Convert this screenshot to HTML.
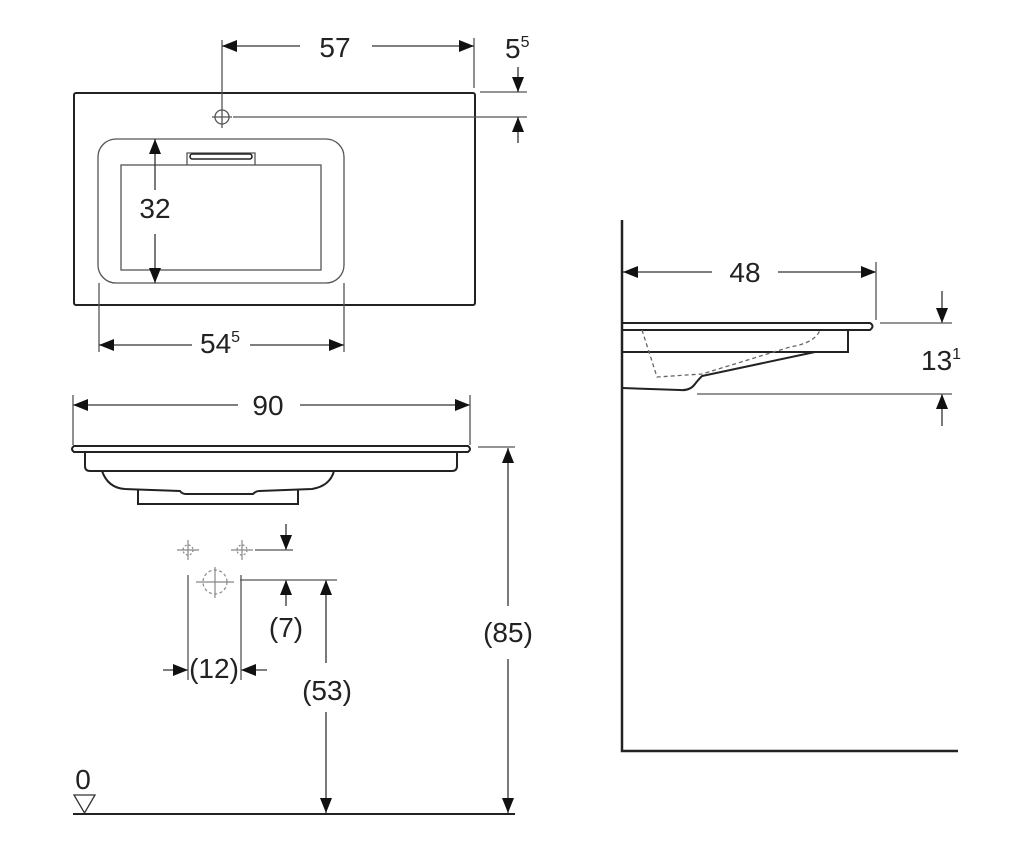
<!DOCTYPE html>
<html><head><meta charset="utf-8"><style>
html,body{margin:0;padding:0;background:#fff;width:1024px;height:850px;overflow:hidden}
svg text{font-family:"Liberation Sans",sans-serif;fill:#222}
</style></head><body>
<svg width="1024" height="850" viewBox="0 0 1024 850" xmlns="http://www.w3.org/2000/svg">
<defs>
<marker id="a" viewBox="0 0 15 12" refX="15" refY="6" markerWidth="15" markerHeight="12" markerUnits="userSpaceOnUse" orient="auto"><path d="M0,0 L15,6 L0,12 Z" fill="#111"/></marker>
</defs>
<g fill="none" stroke="#222" stroke-width="2">
<rect x="74" y="93" width="401" height="212" rx="2"/>
</g>
<g fill="none" stroke="#555" stroke-width="1.3">
<rect x="98" y="139" width="246" height="144" rx="18"/>
<rect x="121" y="165" width="200" height="105"/>
<path d="M187,165 V153 H255 V165"/>
<rect x="190" y="154" width="62" height="5" rx="2.5" stroke="#222" stroke-width="1.6"/>
<circle cx="222" cy="117" r="7"/>
<line x1="212" y1="117" x2="232" y2="117"/>
<line x1="222" y1="40" x2="222" y2="128"/>
<line x1="474" y1="38" x2="474" y2="88"/>
<line x1="480" y1="92" x2="527" y2="92"/>
<line x1="233" y1="117" x2="527" y2="117"/>
<line x1="99" y1="283" x2="99" y2="352"/>
<line x1="344" y1="283" x2="344" y2="352"/>
</g>
<g stroke="#333" stroke-width="1.3" fill="none">
<line x1="300" y1="46" x2="222" y2="46" marker-end="url(#a)"/>
<line x1="372" y1="46" x2="474" y2="46" marker-end="url(#a)"/>
<line x1="518" y1="67" x2="518" y2="92" marker-end="url(#a)"/>
<line x1="518" y1="143" x2="518" y2="117" marker-end="url(#a)"/>
<line x1="155" y1="190" x2="155" y2="139" marker-end="url(#a)"/>
<line x1="155" y1="234" x2="155" y2="283" marker-end="url(#a)"/>
<line x1="192" y1="345" x2="99" y2="345" marker-end="url(#a)"/>
<line x1="250" y1="345" x2="344" y2="345" marker-end="url(#a)"/>
<line x1="238" y1="405" x2="73" y2="405" marker-end="url(#a)"/>
<line x1="300" y1="405" x2="470" y2="405" marker-end="url(#a)"/>
<line x1="508" y1="606" x2="508" y2="448" marker-end="url(#a)"/>
<line x1="508" y1="659" x2="508" y2="813" marker-end="url(#a)"/>
<line x1="326" y1="663" x2="326" y2="580" marker-end="url(#a)"/>
<line x1="326" y1="712" x2="326" y2="813" marker-end="url(#a)"/>
<line x1="286" y1="524" x2="286" y2="550" marker-end="url(#a)"/>
<line x1="286" y1="606" x2="286" y2="580" marker-end="url(#a)"/>
<line x1="163" y1="670" x2="188" y2="670" marker-end="url(#a)"/>
<line x1="267" y1="670" x2="241" y2="670" marker-end="url(#a)"/>
<line x1="712" y1="272" x2="623" y2="272" marker-end="url(#a)"/>
<line x1="778" y1="272" x2="876" y2="272" marker-end="url(#a)"/>
<line x1="942" y1="291" x2="942" y2="323" marker-end="url(#a)"/>
<line x1="942" y1="426" x2="942" y2="394" marker-end="url(#a)"/>
</g>
<g fill="none" stroke="#555" stroke-width="1.3">
<line x1="73" y1="395" x2="73" y2="445"/>
<line x1="470" y1="395" x2="470" y2="445"/>
<line x1="478" y1="447" x2="515" y2="447"/>
<line x1="188" y1="575" x2="188" y2="680"/>
<line x1="241" y1="575" x2="241" y2="680"/>
<line x1="240" y1="580" x2="337" y2="580"/>
<line x1="255" y1="550" x2="293" y2="550"/>
<line x1="876" y1="262" x2="876" y2="320"/>
<line x1="880" y1="323" x2="952" y2="323"/>
<line x1="697" y1="394" x2="952" y2="394"/>
</g>
<g stroke="#888" stroke-width="1.2" fill="none">
<line x1="177" y1="550" x2="199" y2="550"/><line x1="188" y1="540" x2="188" y2="560"/>
<circle cx="188" cy="550" r="5" stroke-dasharray="2,2"/>
<line x1="231" y1="550" x2="253" y2="550"/><line x1="242" y1="540" x2="242" y2="560"/>
<circle cx="242" cy="550" r="5" stroke-dasharray="2,2"/>
<line x1="196" y1="582" x2="234" y2="582"/><line x1="215" y1="567" x2="215" y2="598"/>
<circle cx="215" cy="582" r="12" stroke-dasharray="3,2.5"/>
</g>
<g fill="none" stroke="#222" stroke-width="2">
<path d="M74,446 H468 Q472,449 468,452 H74 Q70,449 74,446 Z"/>
<path d="M85,452 V466 Q85,471 90,471 H452 Q457,471 457,466 V452"/>
<path d="M102,471 Q108,488 125,489 L180,491 Q182,494 186,494 L253,494 Q256,491 259,491 L312,489 Q330,486 334,471"/>
<path d="M138,490 V504 H298 V490"/>
<line x1="73" y1="814" x2="515" y2="814"/>
<path d="M622,220 V751 H958" stroke-width="2.5"/>
<path d="M622,323 H870 Q875,326 870,330 H622"/>
<path d="M622,352 H848 V330"/>
<path d="M815,352 L702,376 Q698,380 695,384 Q690,391 680,390 L622,388"/>
</g>
<path d="M642,330 L657,377 L702,374 L790,347 Q815,343 820,330" fill="none" stroke="#666" stroke-width="1.3" stroke-dasharray="4,3"/>
<polygon points="74,795 95,795 84.5,813" fill="none" stroke="#333" stroke-width="1.3"/>
<g font-size="28">
<text x="335" y="57" text-anchor="middle">57</text>
<text x="505" y="58">5<tspan font-size="16" dy="-11">5</tspan></text>
<text x="155" y="218" text-anchor="middle">32</text>
<text x="200" y="353">54<tspan font-size="16" dy="-11">5</tspan></text>
<text x="268" y="415" text-anchor="middle">90</text>
<text x="508" y="642" text-anchor="middle">(85)</text>
<text x="327" y="700" text-anchor="middle">(53)</text>
<text x="286" y="637" text-anchor="middle">(7)</text>
<text x="214" y="678" text-anchor="middle">(12)</text>
<text x="83" y="789" text-anchor="middle">0</text>
<text x="745" y="282" text-anchor="middle">48</text>
<text x="921" y="370">13<tspan font-size="16" dy="-11">1</tspan></text>
</g>
</svg>
</body></html>
